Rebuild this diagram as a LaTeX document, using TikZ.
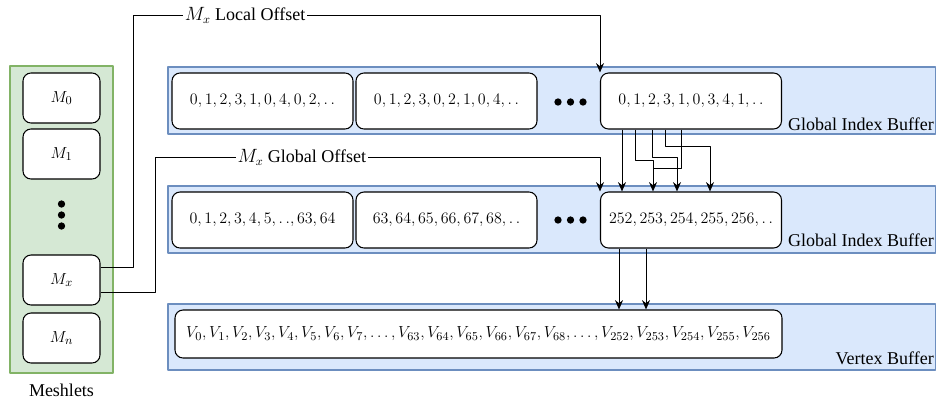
\documentclass[tikz,border=0pt]{standalone}
\usepackage{amsmath}
\usepackage{fontspec}
\setmainfont{Liberation Serif}
\newfontfamily\labelfont{Liberation Serif}
\usepackage{tikz}
\usetikzlibrary{
  arrows.meta,  % Stealth arrow tips
  calc,         % coordinate calculations
  positioning   % relative node placement
}
\definecolor{meshfill}{HTML}{D5E8D4}
\definecolor{meshline}{HTML}{82B366}
\definecolor{buffill}{HTML}{DAE8FC}
\definecolor{bufline}{HTML}{6C8EBF}
\tikzset{
  meshlet panel/.style={
    fill=meshfill,
    draw=meshline,
    line width=0.9pt
  },
  buffer band/.style={
    fill=buffill,
    draw=bufline,
    line width=0.9pt
  },
  cell/.style={
    draw=black,
    fill=white,
    rounded corners=6pt,
    line width=0.8pt,
    inner sep=0pt,
    font=\fontsize{12.4}{15}\selectfont
  },
  cell size/.style 2 args={
    minimum width=#1*0.75pt,
    minimum height=#2*0.75pt
  },
  link/.style={
    -{Stealth[length=7pt,width=6pt]},
    line width=0.75pt
  },
  buffer name/.style={
    anchor=east,
    inner sep=0pt,
    font=\labelfont\fontsize{13.5}{16}\selectfont
  },
  offset label/.style={
    fill=white,
    inner sep=1.5pt,
    font=\labelfont\fontsize{13.5}{16}\selectfont
  },
  big dot/.style={
    circle,
    fill=black,
    inner sep=0pt,
    minimum size=5.5pt
  }
}

\begin{document}
\begin{tikzpicture}[x=0.75pt, y=-0.75pt, line join=round]
  % picture frame in reference pixels (y grows downward)
  \useasboundingbox (0,0) rectangle (936,404);

  % ===================================
  % backgrounds: meshlet column and the three buffers
  % ===================================
  \draw[meshlet panel] (10,66) rectangle (113,373);
  \draw[buffer band] (168,67) rectangle (935.5,134);
  \draw[buffer band] (168,186) rectangle (935.5,253);
  \draw[buffer band] (168,304) rectangle (935.5,370);

  % ===================================
  % meshlets
  % ===================================
  \node[cell, cell size={77}{50}] (m0) at (61.5,98) {$M_0$};
  \node[cell, cell size={77}{50}] (m1) at (61.5,154) {$M_1$};
  \node[cell, cell size={77}{50}] (mx) at (61.5,280) {$M_x$};
  \node[cell, cell size={77}{50}] (mn) at (61.5,338) {$M_n$};
  \foreach \y in {204,215,226} {
    \node[big dot] (mdot\y) at (61.5,\y) {};
  }
  \node[font=\labelfont\fontsize{13.5}{16}\selectfont] (meshname) at (61.5,390) {Meshlets};

  % ===================================
  % global index buffer (local indices)
  % ===================================
  \node[cell, cell size={181}{56}] (idx1a) at (262.5,101) {$0,1,2,3,1,0,4,0,2,.\,.$};
  \node[cell, cell size={181}{56}] (idx1b) at (446.5,101) {$0,1,2,3,0,2,1,0,4,.\,.$};
  \node[cell, cell size={181}{56}] (idx1c) at (691,101) {$0,1,2,3,1,0,3,4,1,.\,.$};
  \foreach \x in {558,570.5,583} {
    \node[big dot] (rowdotA\x) at (\x,102) {};
  }
  \node[buffer name] (gibname1) at (934,124) {Global Index Buffer};

  % ===================================
  % global index buffer (vertex indices)
  % ===================================
  \node[cell, cell size={181}{56}] (idx2a) at (262.5,220) {$0,1,2,3,4,5,.\,.,63,64$};
  \node[cell, cell size={181}{56}] (idx2b) at (446.5,220) {$63,64,65,66,67,68,.\,.$};
  \node[cell, cell size={181}{56}] (idx2c) at (691,220) {$252,253,254,255,256,.\,.$};
  \foreach \x in {558,570.5,583} {
    \node[big dot] (rowdotB\x) at (\x,220) {};
  }
  \node[buffer name] (gibname2) at (934,240) {Global Index Buffer};

  % ===================================
  % vertex buffer
  % ===================================
  \node[cell, cell size={607}{48}] (vtx) at (478.5,334)
    {$V_0,V_1,V_2,V_3,V_4,V_5,V_6,V_7,\dots,V_{63},V_{64},V_{65},V_{66},V_{67},V_{68},\dots,V_{252},V_{253},V_{254},V_{255},V_{256}$};
  \node[buffer name] (vbname) at (934,358) {Vertex Buffer};

  % ===================================
  % offsets from meshlet M_x
  % ===================================
  \draw[link] (mx.east |- 0,267) -- (133,267) -- (133,15)
    -- node[offset label, pos=0.24] {$M_x$ Local Offset} (600,15)
    -- (600,0 |- idx1c.north);
  \draw[link] (mx.east |- 0,292) -- (155,292) -- (155,157)
    -- node[offset label, pos=0.33] {$M_x$ Global Offset} (600,157)
    -- (600,0 |- idx2c.north);

  % ===================================
  % local index -> global index
  % ===================================
  \draw[link] (622,0 |- idx1c.south) -- (622,0 |- idx2c.north);
  \draw[link] (635,0 |- idx1c.south) -- (635,160) -- (653,160) -- (653,0 |- idx2c.north);
  \draw[link] (652,0 |- idx1c.south) -- (652,157) -- (677,157) -- (677,0 |- idx2c.north);
  \draw[link] (665,0 |- idx1c.south) -- (665,146) -- (710,146) -- (710,0 |- idx2c.north);
  \draw (681,0 |- idx1c.south) -- (681,168) -- (653,168);

  % global index -> vertex
  \draw[link] (619,0 |- idx2c.south) -- (619,0 |- vtx.north);
  \draw[link] (646,0 |- idx2c.south) -- (646,0 |- vtx.north);

\end{tikzpicture}
\end{document}
